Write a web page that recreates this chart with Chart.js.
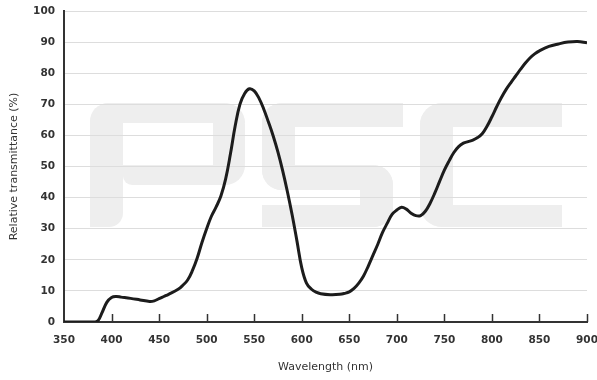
<!DOCTYPE html>
<html>
<head>
<meta charset="utf-8">
<script src="https://cdn.jsdelivr.net/npm/chart.js@4/dist/chart.umd.min.js"></script>
<style>
  html, body { margin: 0; padding: 0; background: #ffffff; }
  #wrap { width: 597px; height: 380px; }
</style>
</head>
<body>
<div id="wrap"><canvas id="chart" width="597" height="380"></canvas></div>
<script>
// Filter transmission curve: wavelength (nm) vs relative transmittance (%)
const wavelengths = [
  350, 360, 370, 380, 383, 386, 390, 395, 400, 405, 410, 420, 430, 440, 445,
  450, 455, 460, 470, 475, 480, 485, 490, 495, 500, 505, 510, 515, 520, 525,
  530, 535, 540, 545, 550, 555, 560, 565, 570, 575, 580, 585, 590, 595, 600,
  605, 610, 615, 620, 630, 640, 645, 650, 655, 660, 665, 670, 675, 680, 685,
  690, 695, 700, 705, 710, 715, 720, 725, 730, 735, 740, 745, 750, 755, 760,
  765, 770, 775, 780, 785, 790, 795, 800, 805, 810, 815, 820, 825, 830, 835,
  840, 845, 850, 860, 870, 880, 890, 900
];
const transmittance = [
  0, 0, 0, 0, 0, 0.5, 3, 6.3, 7.9, 8.2, 8.0, 7.6, 7.1, 6.6, 6.8,
  7.5, 8.2, 8.9, 10.5, 11.8, 13.5, 16.5, 20.5, 25.5, 30, 34, 37, 40.5, 46, 54,
  63, 70, 73.5, 75, 74.3, 72, 68.5, 64.3, 59.8, 54.6, 48.6, 41.8, 34.3, 26, 17.5,
  12.5, 10.6, 9.6, 9.1, 8.8, 8.9, 9.2, 9.7, 10.8, 12.5, 14.8, 18, 21.5, 25, 28.8,
  31.8, 34.6, 36, 36.9, 36.3, 35, 34.2, 34.2, 35.6, 38.2, 41.5, 45.2, 48.8, 51.8, 54.5,
  56.4, 57.5, 58, 58.5, 59.3, 60.6, 63, 66, 69.2, 72.2, 74.8, 77, 79.1, 81.2, 83.2,
  84.9, 86.2, 87.2, 88.6, 89.4, 90, 90.2, 89.8
];
const xTickStep = 50;
const yTickStep = 10;

const fontFamily = "'DejaVu Sans', Verdana, sans-serif";
const labelFont = { family: fontFamily, size: 10.5, weight: 'bold' };
const titleFont = { family: fontFamily, size: 11 };

// Pale blocky "PSC" logo behind the plot, built from rounded bars
const logoParts = [
  // P
  [90, 103, 33, 124, [20, 0, 14, 0]],
  [90, 103, 155, 20, [20, 22, 0, 0]],
  [213, 103, 32, 82, [0, 22, 22, 0]],
  [123, 165, 122, 20, [0, 0, 22, 10]],
  // S
  [262, 103, 141, 24, [20, 0, 0, 0]],
  [262, 103, 33, 87, [20, 0, 0, 20]],
  [262, 165, 131, 25, [0, 20, 0, 20]],
  [360, 165, 33, 62, [0, 20, 20, 0]],
  [262, 205, 131, 22, [0, 0, 20, 0]],
  // C
  [420, 103, 142, 24, [22, 0, 0, 0]],
  [420, 103, 33, 124, [22, 0, 0, 22]],
  [420, 205, 142, 22, [0, 0, 0, 22]]
];

const watermark = {
  id: 'watermark',
  beforeDraw(chart) {
    const ctx = chart.ctx;
    ctx.save();
    ctx.fillStyle = '#ffffff';
    ctx.fillRect(0, 0, chart.width, chart.height);
    ctx.fillStyle = '#eeeeee';
    logoParts.forEach(([x, y, w, h, r]) => {
      ctx.beginPath();
      ctx.roundRect(x, y, w, h, r);
      ctx.fill();
    });
    ctx.restore();
  }
};

// Short tick marks rising from the wavelength axis
const innerTicks = {
  id: 'innerTicks',
  afterDraw(chart) {
    const xs = chart.scales.x;
    const ctx = chart.ctx;
    const y0 = chart.chartArea.bottom;
    ctx.save();
    ctx.strokeStyle = '#333333';
    ctx.lineWidth = 1.5;
    xs.ticks.forEach(t => {
      if (t.value === xs.min) return;
      const px = Math.round(xs.getPixelForValue(t.value)) + 0.5;
      ctx.beginPath();
      ctx.moveTo(px, y0);
      ctx.lineTo(px, y0 - 8);
      ctx.stroke();
    });
    ctx.restore();
  }
};

new Chart(document.getElementById('chart'), {
  type: 'line',
  data: {
    datasets: [{
      data: wavelengths.map((w, i) => ({ x: w, y: transmittance[i] })),
      borderColor: '#1c1c1c',
      borderWidth: 3,
      pointRadius: 0,
      fill: false,
      tension: 0.4
    }]
  },
  options: {
    responsive: false,
    animation: false,
    devicePixelRatio: 1,
    layout: { padding: { top: 11, right: 10, left: 0, bottom: 0 } },
    plugins: { legend: { display: false }, tooltip: { enabled: false } },
    scales: {
      x: {
        type: 'linear',
        min: 350,
        max: 900,
        afterFit(scale) {
          scale.height = 58;
          scale.paddingLeft = 0;
          scale.paddingRight = 0;
        },
        ticks: { stepSize: xTickStep, color: '#333333', font: labelFont, padding: 12, maxRotation: 0 },
        grid: { display: false, drawTicks: false },
        border: { display: true, color: '#333333', width: 2 },
        title: { display: true, text: 'Wavelength (nm)', color: '#333333', font: titleFont, padding: { top: 0, bottom: 6 } }
      },
      y: {
        min: 0,
        max: 100,
        afterFit(scale) {
          scale.width = 64;
          scale.paddingTop = 0;
          scale.paddingBottom = 0;
        },
        ticks: { stepSize: yTickStep, color: '#333333', font: labelFont, padding: 9 },
        grid: { color: '#dddddd', lineWidth: 1, drawTicks: false },
        border: { display: true, color: '#333333', width: 2 },
        title: { display: true, text: 'Relative transmittance (%)', color: '#333333', font: titleFont, padding: { top: 8, bottom: 0 } }
      }
    }
  },
  plugins: [watermark, innerTicks]
});
</script>
</body>
</html>
